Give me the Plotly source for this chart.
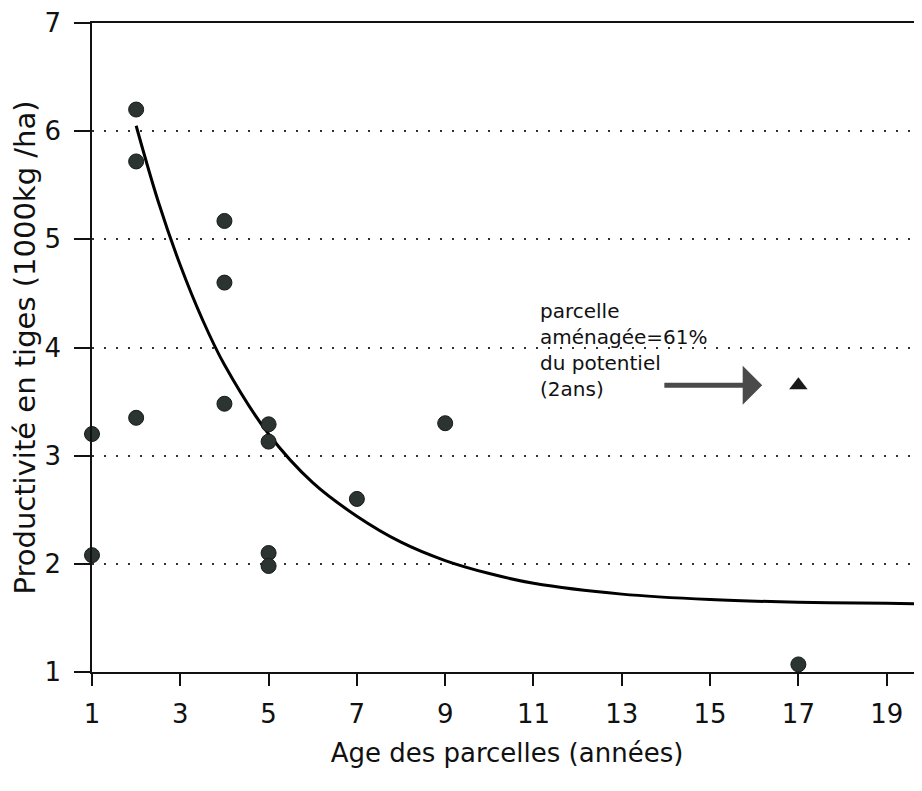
import plotly.graph_objects as go

# points mesurés : age (années) / productivité (1000 kg/ha)
age = [1, 1, 2, 2, 2, 4, 4, 4, 5, 5, 5, 5, 7, 9, 17]
prod = [3.2, 2.08, 6.2, 5.72, 3.35, 5.17, 4.6, 3.48, 3.29, 3.13, 2.1, 1.98, 2.6, 3.3, 1.07]

# parcelle aménagée
amen_age = [17]
amen_prod = [3.65]

# courbe d'ajustement
curve_x = [2, 2.5, 3, 3.5, 4, 5, 6, 7, 8, 9, 10, 11, 13, 15, 17, 19, 19.8]
curve_y = [6.05, 5.35, 4.76, 4.26, 3.84, 3.2, 2.75, 2.44, 2.2, 2.03, 1.91, 1.82, 1.72, 1.67, 1.645, 1.635, 1.63]

x_ticks = [1, 3, 5, 7, 9, 11, 13, 15, 17, 19]
y_ticks = [1, 2, 3, 4, 5, 6, 7]

font = "DejaVu Sans"

fig = go.Figure()
fig.add_trace(go.Scatter(x=curve_x, y=curve_y, mode='lines',
                         line=dict(color='black', width=3, shape='spline'),
                         hoverinfo='skip'))
fig.add_trace(go.Scatter(x=age, y=prod, mode='markers',
                         marker=dict(symbol='circle', size=15, color='#2c3432',
                                     line=dict(color='#151a19', width=1)),
                         cliponaxis=False))
fig.add_trace(go.Scatter(x=amen_age, y=amen_prod, mode='markers',
                         marker=dict(symbol='triangle-up', size=16, color='#1a1a1a')))

fig.add_annotation(x=11.1, y=3.98, xref='x', yref='y', xanchor='left', yanchor='middle',
                   text="parcelle<br>aménagée=61%<br>du potentiel<br>(2ans)",
                   align='left', showarrow=False,
                   font=dict(family=font, size=20, color='#111'))
fig.add_annotation(x=16.18, y=3.65, ax=13.93, ay=3.65, xref='x', yref='y',
                   axref='x', ayref='y', text='', showarrow=True,
                   arrowhead=1, arrowsize=1.3, arrowwidth=5, arrowcolor='#4a4a4a')

fig.update_layout(
    width=914, height=775,
    margin=dict(l=84, r=0, t=11, b=111),
    paper_bgcolor='white', plot_bgcolor='white',
    showlegend=False,
    font=dict(family=font, color='#111'),
)
fig.update_xaxes(
    range=[1, 19.8], tickvals=x_ticks, ticks='outside', ticklen=12, tickwidth=1.5,
    tickcolor='#111', showline=True, linecolor='#111', linewidth=2, mirror=True,
    showgrid=False, zeroline=False, ticklabelstandoff=6,
    tickfont=dict(family=font, size=26),
    title=dict(text='Age des parcelles (années)', font=dict(family=font, size=26), standoff=16),
)
fig.update_yaxes(
    range=[1, 7], tickvals=y_ticks, ticks='outside', ticklen=16, tickwidth=1.5,
    tickcolor='#111', showline=True, linecolor='#111', linewidth=1.5,
    showgrid=True, gridcolor='#333', gridwidth=2, griddash='2px,10px',
    zeroline=False, ticklabelstandoff=8, ticklabeloverflow='allow',
    tickfont=dict(family=font, size=26),
    title=dict(text='Productivité en tiges (1000kg /ha)', font=dict(family=font, size=29), standoff=4),
)

fig.write_html("out.html")
